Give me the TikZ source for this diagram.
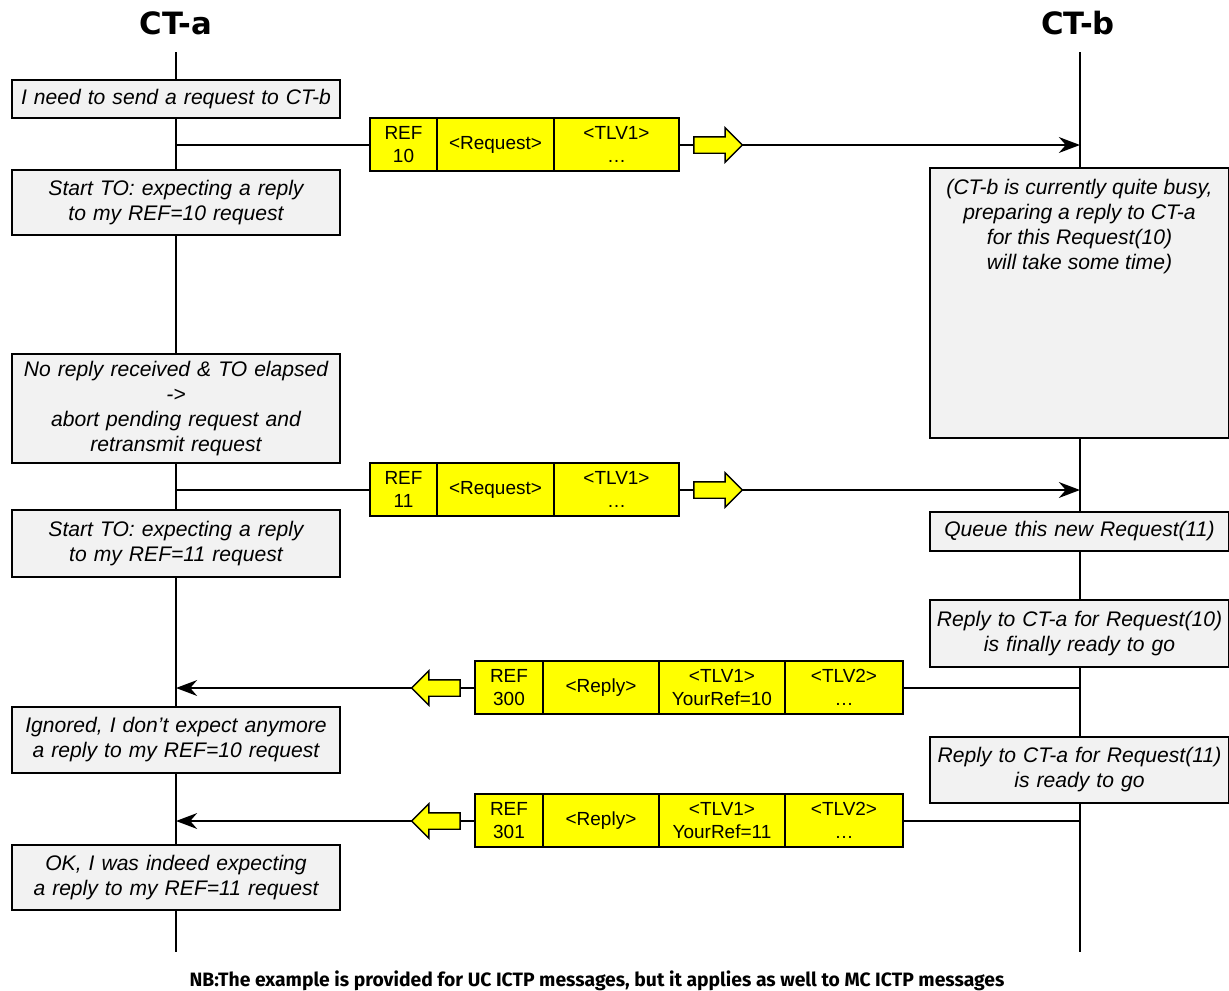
\documentclass[tikz,border=0pt]{standalone}
\usepackage{fontspec}
\setmainfont{Liberation Sans}
\newfontfamily\titlefont{DejaVu Sans}
\newfontfamily\nbfont{Fira Sans}
\usepackage{tikz}
\usetikzlibrary{shapes.arrows,arrows.meta}

\definecolor{boxgray}{HTML}{F2F2F2}
\definecolor{pktyellow}{HTML}{FFFF00}

\begin{document}
\begin{tikzpicture}[
		life/.style={line width=1.2pt},
		msg/.style={line width=1.2pt, -{Stealth[length=12pt,width=9pt]}},
		note/.style={shape=rectangle, draw=black, line width=0.8pt, fill=boxgray, align=center, inner sep=0pt, font=\fontsize{12}{14.2}\selectfont\itshape},
		lnote/.style={note, minimum width=6.56cm, text width=6.5cm},
		rnote/.style={note, minimum width=5.98cm, text width=5.95cm},
		cell/.style={shape=rectangle, draw=black, line width=0.8pt, fill=pktyellow, align=center, inner sep=0pt, minimum height=1.06cm, font=\fontsize{10.8}{13}\selectfont},
		fat/.style={shape=single arrow, draw=black, line width=0.8pt, fill=pktyellow, inner sep=0pt, text height=0.3cm, text depth=0pt, minimum width=0.66cm, minimum height=0.97cm, single arrow head extend=0.18cm, single arrow head indent=0pt},
		who/.style={font=\titlefont\bfseries\fontsize{17.5}{20}\selectfont}]
		\useasboundingbox (0,0) rectangle (24.58,-19.82);
		
		\node[who] (CTa) at (3.52,-0.46) {CT-a};
		\node[who] (CTb) at (21.56,-0.46) {CT-b};
		
		\coordinate (Atop) at (3.52,-1.04);
		\coordinate (Abot) at (3.52,-19.04);
		\coordinate (Btop) at (21.6,-1.04);
		\coordinate (Bbot) at (21.6,-19.04);
		\draw[life] (Atop) -- (Abot);
		\draw[life] (Btop) -- (Bbot);
		
		\coordinate (A1) at (3.52,-2.9);
		\coordinate (B1) at (21.6,-2.9);
		\coordinate (A2) at (3.52,-9.8);
		\coordinate (B2) at (21.6,-9.8);
		\coordinate (A3) at (3.52,-13.76);
		\coordinate (B3) at (21.6,-13.76);
		\coordinate (A4) at (3.52,-16.42);
		\coordinate (B4) at (21.6,-16.42);
		\draw[msg] (A1) -- (B1);
		\draw[msg] (A2) -- (B2);
		\draw[msg] (B3) -- (A3);
		\draw[msg] (B4) -- (A4);
		
		% CT-a side
		\node[lnote, minimum height=0.76cm] (N1) at (3.52,-1.98) {I need to send a request to CT-b};
		\node[lnote, minimum height=1.3cm] (N2) at (3.52,-4.05) {Start TO: expecting a reply\\to my REF=10 request};
		\node[lnote, minimum height=2.18cm] (N3) at (3.52,-8.17) {No reply received \& TO elapsed\\->\\abort pending request and\\retransmit request};
		\node[lnote, minimum height=1.34cm] (N4) at (3.52,-10.87) {Start TO: expecting a reply\\to my REF=11 request};
		\node[lnote, minimum height=1.32cm] (N5) at (3.52,-14.8) {Ignored, I don't expect anymore\\a reply to my REF=10 request};
		\node[lnote, minimum height=1.3cm] (N6) at (3.52,-17.55) {OK, I was indeed expecting\\a reply to my REF=11 request};
		
		% CT-b side
		\node[rnote, minimum height=5.4cm] (busy) at (21.59,-6.06) {};
		\node[anchor=north, align=center, inner sep=0pt, font=\fontsize{12}{14.2}\selectfont\itshape] (busytxt) at ([yshift=-0.24cm]busy.north) {(CT-b is currently quite busy,\\preparing a reply to CT-a\\for this Request(10)\\will take some time)};
		\node[rnote, minimum height=0.78cm] (queue) at (21.59,-10.63) {Queue this new Request(11)};
		\node[rnote, minimum height=1.34cm] (ready10) at (21.59,-12.67) {Reply to CT-a for Request(10)\\is finally ready to go};
		\node[rnote, minimum height=1.32cm] (ready11) at (21.59,-15.4) {Reply to CT-a for Request(11)\\is ready to go};
		
		% request 10
		\node[cell, minimum width=1.34cm] (r10ref) at (8.07,-2.89) {REF\\10};
		\node[cell, minimum width=2.34cm] (r10type) at (9.91,-2.89) {<Request>};
		\node[cell, minimum width=2.5cm] (r10tlv) at (12.33,-2.89) {<TLV1>\\\ldots};
		\node[fat] (r10arr) at (14.28,-2.9) {};
		
		% request 11
		\node[cell, minimum width=1.34cm] (r11ref) at (8.07,-9.79) {REF\\11};
		\node[cell, minimum width=2.34cm] (r11type) at (9.91,-9.79) {<Request>};
		\node[cell, minimum width=2.5cm] (r11tlv) at (12.33,-9.79) {<TLV1>\\\ldots};
		\node[fat] (r11arr) at (14.28,-9.8) {};
		
		% reply 300
		\node[cell, minimum width=1.36cm] (p300ref) at (10.18,-13.75) {REF\\300};
		\node[cell, minimum width=2.32cm] (p300type) at (12.02,-13.75) {<Reply>};
		\node[cell, minimum width=2.52cm] (p300tlv1) at (14.44,-13.75) {<TLV1>\\YourRef=10};
		\node[cell, minimum width=2.36cm] (p300tlv2) at (16.88,-13.75) {<TLV2>\\\ldots};
		\node[fat, shape border rotate=180] (p300arr) at (8.8,-13.76) {};
		
		% reply 301
		\node[cell, minimum width=1.36cm] (p301ref) at (10.18,-16.41) {REF\\301};
		\node[cell, minimum width=2.32cm] (p301type) at (12.02,-16.41) {<Reply>};
		\node[cell, minimum width=2.52cm] (p301tlv1) at (14.44,-16.41) {<TLV1>\\YourRef=11};
		\node[cell, minimum width=2.36cm] (p301tlv2) at (16.88,-16.41) {<TLV2>\\\ldots};
		\node[fat, shape border rotate=180] (p301arr) at (8.8,-16.42) {};
		
		\node[font=\nbfont\bfseries\fontsize{11}{12}\selectfont] (nb) at (11.94,-19.62) {NB:The example is provided for UC ICTP messages, but it applies as well to MC ICTP messages};
	\end{tikzpicture}
\end{document}
